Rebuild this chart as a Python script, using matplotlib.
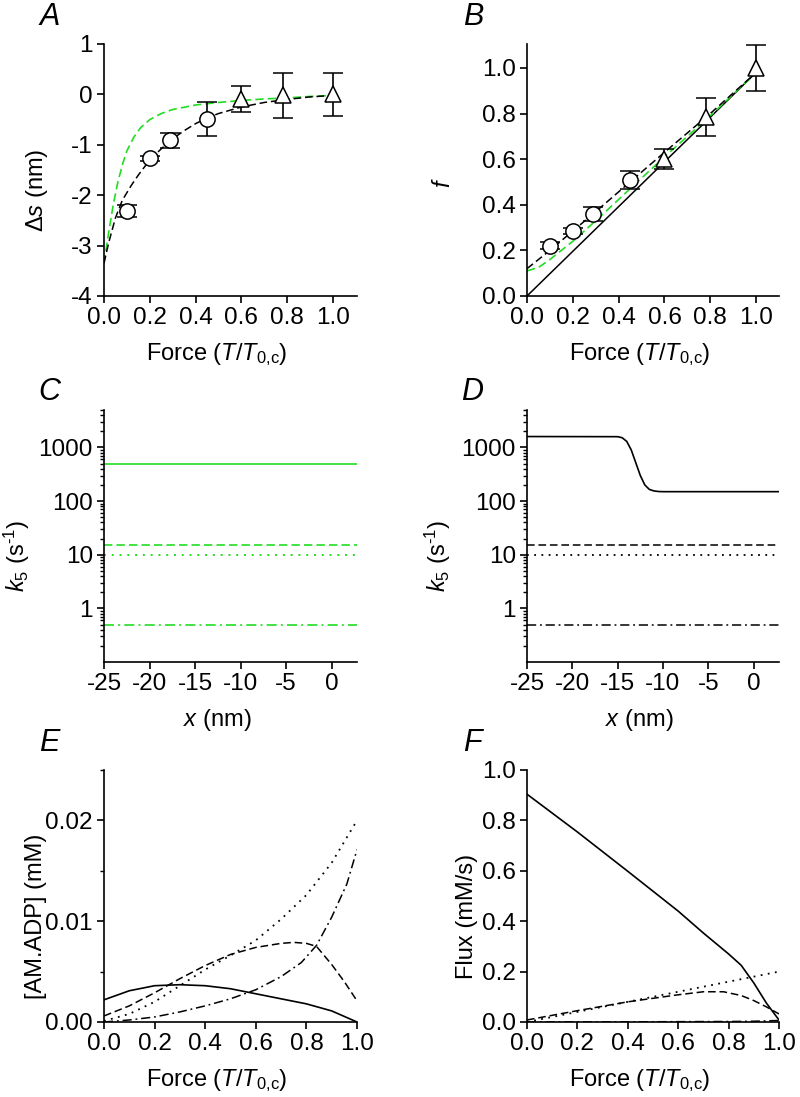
import numpy as np
import matplotlib
matplotlib.use("Agg")
import matplotlib.pyplot as plt
from matplotlib.ticker import FixedLocator, NullFormatter

plt.rcParams['font.family'] = ['Liberation Sans', 'DejaVu Sans']
plt.rcParams['mathtext.fontset'] = 'custom'
plt.rcParams['mathtext.rm'] = 'Liberation Sans'
plt.rcParams['mathtext.it'] = 'Liberation Sans:italic'
plt.rcParams['axes.unicode_minus'] = False

GREEN = '#22dd22'

# Panel A: step size vs force
a_circ_x = [0.1, 0.2, 0.29, 0.45]
a_circ_y = [-2.31, -1.27, -0.91, -0.49]
a_circ_err = [0.12, 0.05, 0.15, 0.34]
a_tri_x = [0.6, 0.78, 1.0]
a_tri_y = [-0.09, -0.02, 0.0]
a_tri_err = [0.26, 0.45, 0.42]
a_fit_x = [0, 0.02, 0.05, 0.08, 0.1, 0.12, 0.15, 0.2, 0.25, 0.3, 0.35, 0.4, 0.45,
           0.5, 0.6, 0.7, 0.8, 0.9, 1.0]
a_fit_y = [-3.35, -2.95, -2.45, -2.1, -1.95, -1.8, -1.6, -1.3, -1.08, -0.88, -0.72,
           -0.58, -0.47, -0.38, -0.25, -0.16, -0.1, -0.05, -0.02]
a_grn_x = [0, 0.02, 0.04, 0.06, 0.08, 0.1, 0.13, 0.16, 0.2, 0.25, 0.3, 0.4, 0.5,
           0.6, 0.7, 0.8, 0.9, 1.0]
a_grn_y = [-3.35, -2.75, -2.2, -1.75, -1.4, -1.12, -0.85, -0.66, -0.5, -0.38, -0.3,
           -0.21, -0.16, -0.12, -0.09, -0.07, -0.04, -0.02]

# Panel B: fraction of attached heads
b_circ_x = [0.1, 0.2, 0.29, 0.45]
b_circ_y = [0.22, 0.285, 0.36, 0.51]
b_circ_err = [0.015, 0.015, 0.03, 0.04]
b_tri_x = [0.6, 0.78, 1.0]
b_tri_y = [0.6, 0.785, 1.0]
b_tri_err = [0.045, 0.083, 0.1]
b_line_x = [0, 1.0]
b_line_y = [0, 0.98]
b_fit_x = [0, 0.1, 0.2, 0.3, 0.45, 0.6, 0.8, 1.0]
b_fit_y = [0.12, 0.2, 0.285, 0.37, 0.5, 0.63, 0.8, 0.98]
b_grn_x = [0, 0.05, 0.1, 0.2, 0.3, 0.45, 0.6, 0.8, 1.0]
b_grn_y = [0.11, 0.125, 0.16, 0.24, 0.33, 0.47, 0.61, 0.79, 0.98]

# Panels C and D: k5 vs x
cd_x = [-25, 3]
k5_dash = [15, 15]
k5_dot = [10, 10]
k5_dashdot = [0.5, 0.5]
c_solid = [500, 500]
d_solid_x = [-25, -15, -14.5, -14, -13.5, -13, -12.5, -12, -11.5, -11, -10.5, -10, 3]
d_solid_y = [1600, 1590, 1520, 1300, 900, 520, 300, 200, 165, 155, 151, 150, 150]

# Panel E: [AM.ADP]
force = [0, 0.1, 0.2, 0.3, 0.4, 0.5, 0.6, 0.7, 0.8, 0.9, 1.0]
e_solid = [0.0022, 0.0031, 0.0036, 0.0037, 0.0036, 0.0033, 0.0028, 0.0023, 0.0018, 0.0011, 0.0]
e_dash_x = [0, 0.1, 0.2, 0.3, 0.4, 0.5, 0.6, 0.7, 0.75, 0.8, 0.84, 0.9, 0.95, 1.0]
e_dash_y = [0.0006, 0.0016, 0.0029, 0.0043, 0.0056, 0.0067, 0.0074, 0.0078, 0.0079, 0.0078,
            0.0075, 0.0057, 0.004, 0.0021]
e_dot = [0.0001, 0.0008, 0.002, 0.0036, 0.0052, 0.0066, 0.0081, 0.0102, 0.0126, 0.0158, 0.02]
e_dd_x = [0, 0.1, 0.2, 0.3, 0.4, 0.5, 0.6, 0.7, 0.78, 0.84, 0.9, 0.96, 1.0]
e_dd_y = [0.0, 0.0002, 0.0005, 0.001, 0.0016, 0.0023, 0.0032, 0.0045, 0.0059, 0.0076,
          0.0104, 0.0137, 0.0171]

# Panel F: flux
f_solid_x = [0, 0.2, 0.4, 0.6, 0.7, 0.8, 0.85, 0.9, 0.95, 1.0]
f_solid_y = [0.904, 0.754, 0.598, 0.44, 0.353, 0.27, 0.225, 0.155, 0.075, 0.008]
f_dot_x = [0, 1.0]
f_dot_y = [0, 0.2]
f_dash_x = [0, 0.2, 0.4, 0.6, 0.7, 0.78, 0.85, 0.9, 0.95, 1.0]
f_dash_y = [0.008, 0.045, 0.08, 0.108, 0.12, 0.12, 0.105, 0.085, 0.06, 0.032]
f_dd_x = [0, 0.5, 0.8, 0.9, 1.0]
f_dd_y = [0.0, 0.001, 0.002, 0.003, 0.006]

TICK_FS = 17.5
LAB_FS = 17
DASH = (0, (5, 2.5))
DOT = (0, (1, 3))
DASHDOT = (0, (6, 2.5, 1.2, 2.5))

fig = plt.figure(figsize=(8, 10.97), dpi=100)
W, H = 800, 1097


def make_ax(x0, top, w=253, h=252):
    ax = fig.add_axes([x0 / W, 1 - (top + h) / H, w / W, h / H])
    for s in ['top', 'right']:
        ax.spines[s].set_visible(False)
    for s in ['left', 'bottom']:
        ax.spines[s].set_linewidth(1.2)
    ax.tick_params(direction='out', length=5, width=1.2, labelsize=TICK_FS, pad=3)
    ax.tick_params(which='minor', direction='out', length=3, width=1)
    return ax


def place_labels(ax, ylab_right, ylab_mid=0.42):
    # ylabel x is the right edge of the rotated text, in axes fraction
    ax.yaxis.set_label_coords(ylab_right, ylab_mid)
    ax.xaxis.set_label_coords(0.447, -0.18)


force_label = r'Force ($T$/$T_{0{,}\mathrm{c}}$)'
k5_label = '$k_5$ (s$^{\u20101}$)'

# A
axA = make_ax(104, 44)
axA.plot(a_grn_x, a_grn_y, color=GREEN, ls=DASH, lw=1.2, zorder=2)
axA.plot(a_fit_x, a_fit_y, color='black', ls=DASH, lw=1.1, zorder=2)
axA.errorbar(a_circ_x, a_circ_y, yerr=a_circ_err, fmt='o', ms=11, mfc='white', mec='black',
             mew=1.1, ecolor='black', elinewidth=1.2, capsize=7, capthick=1.2, zorder=3)
axA.errorbar(a_tri_x, a_tri_y, yerr=a_tri_err, fmt='^', ms=12, mfc='white', mec='black',
             mew=1.1, ecolor='black', elinewidth=1.2, capsize=7, capthick=1.2, zorder=3)
axA.set_xlim(0, 1.105)
axA.set_ylim(-4, 1)
axA.set_xticks([0, 0.2, 0.4, 0.6, 0.8, 1.0])
axA.set_xticklabels(['0.0', '0.2', '0.4', '0.6', '0.8', '1.0'])
axA.set_yticks([-4, -3, -2, -1, 0, 1])
axA.set_xlabel(force_label, fontsize=LAB_FS)
axA.set_ylabel(r'$\mathit{\Delta s}$ (nm)', fontsize=LAB_FS)
place_labels(axA, -0.213)

# B
axB = make_ax(527, 44, w=252)
axB.plot(b_line_x, b_line_y, color='black', lw=1.1, zorder=2)
axB.plot(b_grn_x, b_grn_y, color=GREEN, ls=DASH, lw=1.2, zorder=2)
axB.plot(b_fit_x, b_fit_y, color='black', ls=DASH, lw=1.1, zorder=2)
axB.errorbar(b_circ_x, b_circ_y, yerr=b_circ_err, fmt='o', ms=11, mfc='white', mec='black',
             mew=1.1, ecolor='black', elinewidth=1.2, capsize=7, capthick=1.2, zorder=3)
axB.errorbar(b_tri_x, b_tri_y, yerr=b_tri_err, fmt='^', ms=12, mfc='white', mec='black',
             mew=1.1, ecolor='black', elinewidth=1.2, capsize=7, capthick=1.2, zorder=3)
axB.set_xlim(0, 1.1)
axB.set_ylim(0, 1.105)
axB.set_xticks([0, 0.2, 0.4, 0.6, 0.8, 1.0])
axB.set_xticklabels(['0.0', '0.2', '0.4', '0.6', '0.8', '1.0'])
axB.set_yticks([0, 0.2, 0.4, 0.6, 0.8, 1.0])
axB.set_yticklabels(['0.0', '0.2', '0.4', '0.6', '0.8', '1.0'])
axB.set_xlabel(force_label, fontsize=LAB_FS)
axB.set_ylabel(r'$f$', fontsize=LAB_FS)
place_labels(axB, -0.286, 0.45)


def k5_axes(ax, ylab_right):
    ax.set_yscale('log')
    ax.set_xlim(-25, 2.8)
    ax.set_ylim(0.1, 5000)
    ax.set_xticks([-25, -20, -15, -10, -5, 0])
    ax.yaxis.set_major_locator(FixedLocator([1, 10, 100, 1000]))
    ax.set_yticklabels(['1', '10', '100', '1000'])
    minors = [m * 10.0 ** e for e in range(-1, 4) for m in range(2, 10)]
    minors = [v for v in minors if v <= 5000]
    ax.yaxis.set_minor_locator(FixedLocator(minors))
    ax.yaxis.set_minor_formatter(NullFormatter())
    ax.set_xlabel(r'$x$ (nm)', fontsize=LAB_FS)
    ax.set_ylabel(k5_label, fontsize=LAB_FS)
    place_labels(ax, ylab_right)


# C
axC = make_ax(104, 410)
axC.plot(cd_x, c_solid, color=GREEN, lw=1.2)
axC.plot(cd_x, k5_dash, color=GREEN, ls=DASH, lw=1.2)
axC.plot(cd_x, k5_dot, color=GREEN, ls=DOT, lw=1.4)
axC.plot(cd_x, k5_dashdot, color=GREEN, ls=DASHDOT, lw=1.2)
k5_axes(axC, -0.285)

# D
axD = make_ax(527, 410, w=252)
axD.plot(d_solid_x, d_solid_y, color='black', lw=1.2)
axD.plot(cd_x, k5_dash, color='black', ls=DASH, lw=1.1)
axD.plot(cd_x, k5_dot, color='black', ls=DOT, lw=1.3)
axD.plot(cd_x, k5_dashdot, color='black', ls=DASHDOT, lw=1.1)
k5_axes(axD, -0.294)

# E
axE = make_ax(104, 770)
axE.plot(force, e_solid, color='black', lw=1.2)
axE.plot(e_dash_x, e_dash_y, color='black', ls=DASH, lw=1.1)
axE.plot(force, e_dot, color='black', ls=DOT, lw=1.3)
axE.plot(e_dd_x, e_dd_y, color='black', ls=DASHDOT, lw=1.1)
axE.set_xlim(0, 1.0)
axE.set_ylim(0, 0.025)
axE.set_xticks([0, 0.2, 0.4, 0.6, 0.8, 1.0])
axE.set_xticklabels(['0.0', '0.2', '0.4', '0.6', '0.8', '1.0'])
axE.set_yticks([0, 0.01, 0.02])
axE.set_yticklabels(['0.00', '0.01', '0.02'])
axE.yaxis.set_minor_locator(FixedLocator([0.005, 0.015, 0.025]))
axE.set_xlabel(force_label, fontsize=LAB_FS)
axE.set_ylabel('[AM.ADP] (mM)', fontsize=LAB_FS)
place_labels(axE, -0.225)

# F
axF = make_ax(527, 770, w=252)
axF.plot(f_solid_x, f_solid_y, color='black', lw=1.2)
axF.plot(f_dash_x, f_dash_y, color='black', ls=DASH, lw=1.1)
axF.plot(f_dot_x, f_dot_y, color='black', ls=DOT, lw=1.3)
axF.plot(f_dd_x, f_dd_y, color='black', ls=DASHDOT, lw=1.1)
axF.set_xlim(0, 1.0)
axF.set_ylim(0, 1.0)
axF.set_xticks([0, 0.2, 0.4, 0.6, 0.8, 1.0])
axF.set_xticklabels(['0.0', '0.2', '0.4', '0.6', '0.8', '1.0'])
axF.set_yticks([0, 0.2, 0.4, 0.6, 0.8, 1.0])
axF.set_yticklabels(['0.0', '0.2', '0.4', '0.6', '0.8', '1.0'])
axF.set_xlabel(force_label, fontsize=LAB_FS)
axF.set_ylabel('Flux (mM/s)', fontsize=LAB_FS)
place_labels(axF, -0.194)

# panel letters
for letter, px, py in [('A', 50, 17), ('B', 473, 17), ('C', 49, 392),
                       ('D', 472, 392), ('E', 49, 743), ('F', 472, 743)]:
    fig.text(px / W, 1 - py / H, letter, fontsize=22, style='italic',
             ha='center', va='center')

fig.savefig('out.png', dpi=100)
